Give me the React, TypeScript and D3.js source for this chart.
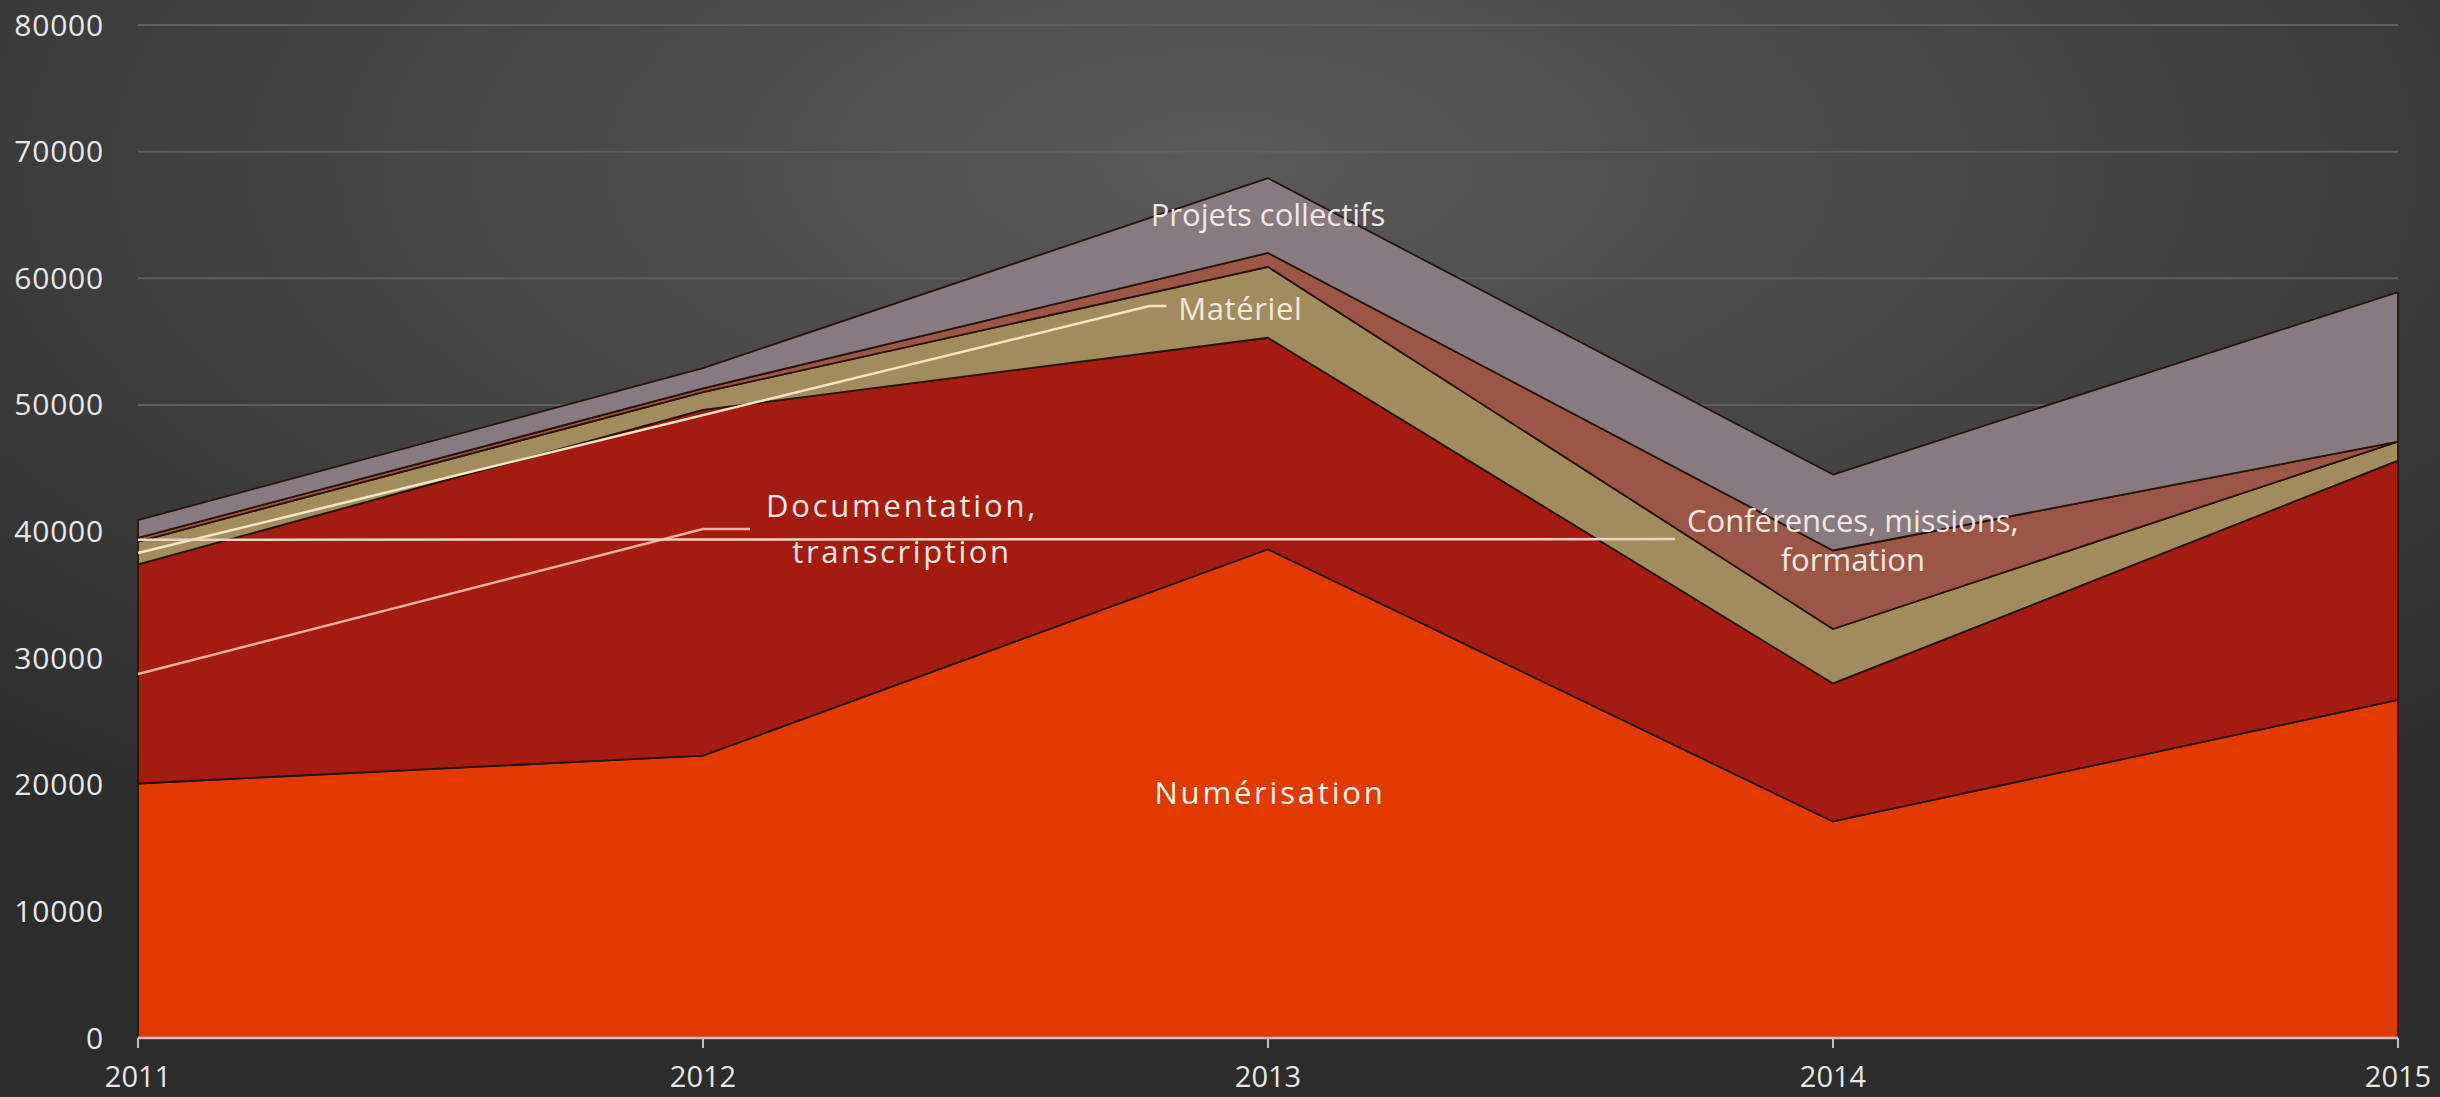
import React from "react";
import * as d3 from "d3";

const years = [2011, 2012, 2013, 2014, 2015];
const numerisation = [20100, 22300, 38600, 17100, 26700];
const documentation = [17300, 27300, 16700, 10900, 18900];
const materiel = [1800, 1400, 5600, 4300, 1500];
const conferences = [300, 300, 1100, 6200, 0];
const projets = [1400, 1600, 5900, 6000, 11800];
const yTicks = [0, 10000, 20000, 30000, 40000, 50000, 60000, 70000, 80000];

const keys = ["num", "doc", "mat", "conf", "proj"];
const colors: Record<string, string> = {
  num: "#e03a00",
  doc: "#a41c0f",
  mat: "#a38c5c",
  conf: "#9c5646",
  proj: "#877a80",
};

const W = 2440;
const H = 1097;
const M = { left: 138, right: 42, top: 25, bottom: 59 };

export default function App() {
  const rows = years.map((y, i) => ({
    year: y,
    num: numerisation[i],
    doc: documentation[i],
    mat: materiel[i],
    conf: conferences[i],
    proj: projets[i],
  }));
  const x = d3.scaleLinear().domain([2011, 2015]).range([M.left, W - M.right]);
  const y = d3.scaleLinear().domain([0, 80000]).range([H - M.bottom, M.top]);
  const stack = d3.stack<any>().keys(keys)(rows);
  const area = d3
    .area<any>()
    .x((d) => x(d.data.year))
    .y0((d) => y(d[0]))
    .y1((d) => y(d[1]));

  const mid = (k: number, i: number) => (stack[k][i][0] + stack[k][i][1]) / 2;
  const font = "'Open Sans', sans-serif";
  const txt = "#f2e8e4";

  const docPts: [number, number][] = [
    [x(2011), y(mid(1, 0))],
    [x(2012), y(40200)],
    [x(2012) + 47, y(40200)],
  ];
  const matPts: [number, number][] = [
    [x(2011), y(mid(2, 0))],
    [x(2012.79), y(57800)],
    [x(2012.82), y(57800)],
  ];
  const confPts: [number, number][] = [
    [x(2011), y(mid(3, 0))],
    [x(2013.72), y(39400)],
  ];
  const line = d3.line();

  return (
    <svg
      width={W}
      height={H}
      style={{ position: "absolute", left: 0, top: 0, display: "block" }}
    >
      <defs>
        <radialGradient id="bg" cx="50%" cy="15%" r="75%">
          <stop offset="0%" stopColor="#5a5a5a" />
          <stop offset="100%" stopColor="#2c2c2c" />
        </radialGradient>
      </defs>
      <rect width={W} height={H} fill="url(#bg)" />
      {yTicks.slice(1).map((t) => (
        <line
          key={t}
          x1={x(2011)}
          x2={x(2015)}
          y1={y(t)}
          y2={y(t)}
          stroke="#5e5e5e"
          strokeWidth={2}
        />
      ))}
      {stack.map((s, k) => (
        <path
          key={keys[k]}
          d={area(s) as string}
          fill={colors[keys[k]]}
          stroke="#2a120c"
          strokeWidth={1.8}
          strokeLinejoin="round"
        />
      ))}
      <line
        x1={x(2011)}
        x2={x(2015)}
        y1={y(0)}
        y2={y(0)}
        stroke="#c8c0bc"
        strokeWidth={2.5}
      />
      {years.map((yr) => (
        <g key={yr}>
          <line
            x1={x(yr)}
            x2={x(yr)}
            y1={y(0)}
            y2={y(0) + 10}
            stroke="#c8c0bc"
            strokeWidth={2}
          />
          <text
            x={x(yr)}
            y={y(0) + 49}
            textAnchor="middle"
            fontFamily={font}
            fontSize={29}
            fill="#e8e8e8"
          >
            {yr}
          </text>
        </g>
      ))}
      {yTicks.map((t) => (
        <text
          key={t}
          x={104}
          y={y(t)}
          dy="0.35em"
          textAnchor="end"
          fontFamily={font}
          fontSize={30}
          letterSpacing={0.8}
          fill="#e8e8e8"
        >
          {t}
        </text>
      ))}
      <path d={line(docPts) as string} fill="none" stroke="#efb0a4" strokeWidth={2.5} />
      <path d={line(matPts) as string} fill="none" stroke="#f3e6c2" strokeWidth={2.5} />
      <path d={line(confPts) as string} fill="none" stroke="#efd2ca" strokeWidth={2.5} />

      <g fontFamily={font} fontSize={31} fill={txt} textAnchor="middle">
        <text
          x={x(2013) + 2}
          y={y(mid(0, 2))}
          dy="0.35em"
          fill="#fff4ee"
          letterSpacing={2.8}
          fontWeight={500}
        >
          Numérisation
        </text>
        <text x={x(2013)} y={y(mid(4, 2))} dy="0.35em">
          Projets collectifs
        </text>
        <text x={x(2012) + 199} y={517} letterSpacing={2.8}>
          Documentation,
        </text>
        <text x={x(2012) + 199} y={563} letterSpacing={2.6}>
          transcription
        </text>
        <text x={x(2012.82) + 74} y={320} letterSpacing={0.6}>
          Matériel
        </text>
        <text x={x(2013.72) + 178} y={532}>
          Conférences, missions,
        </text>
        <text x={x(2013.72) + 178} y={571}>
          formation
        </text>
      </g>
    </svg>
  );
}
